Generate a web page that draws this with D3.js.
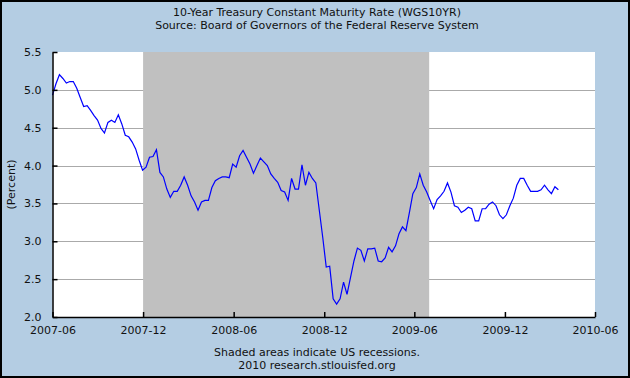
<!DOCTYPE html>
<html><head><meta charset="utf-8">
<script src="https://cdn.jsdelivr.net/npm/d3@7"></script>
<style>
html,body{margin:0;padding:0;background:#b4cde3;}
svg{display:block;}
text{font-family:"DejaVu Sans",Verdana,sans-serif;font-size:11px;fill:#111;}
</style></head><body>
<script>
const titleLines = ["10-Year Treasury Constant Maturity Rate (WGS10YR)", "Source: Board of Governors of the Federal Reserve System"];
const footerLines = ["Shaded areas indicate US recessions.", "2010 research.stlouisfed.org"];
const yLabel = "(Percent)";
const yTicks = [2.0, 2.5, 3.0, 3.5, 4.0, 4.5, 5.0, 5.5];
const xTickLabels = ["2007-06", "2007-12", "2008-06", "2008-12", "2009-06", "2009-12", "2010-06"];
const recession = ["2007-12-01", "2009-07-01"];
const firstWeek = "2007-06-01";
// weekly observations, one per week starting at firstWeek
const values = [
 4.93,5.08,5.20,5.15,5.09,5.11,5.11,5.02,4.90,4.78,4.79,4.73,4.66,4.60,4.49,4.43,4.57,4.60,4.57,4.67,
 4.55,4.40,4.38,4.31,4.22,4.07,3.94,3.98,4.11,4.12,4.21,
 3.91,3.85,3.69,3.58,3.66,3.66,3.74,3.85,3.74,3.60,3.52,3.41,3.52,3.54,3.54,3.71,3.80,3.83,3.85,3.85,
 3.84,4.02,3.98,4.13,4.20,4.11,4.02,3.90,4.00,4.10,4.05,4.00,3.89,3.83,3.78,3.67,3.65,3.54,3.83,3.69,
 3.69,4.01,3.74,3.91,3.83,3.77,3.41,3.05,2.66,2.67,2.24,2.17,
 2.24,2.46,2.30,2.52,2.74,2.91,2.88,2.74,2.90,2.90,2.91,2.74,2.73,2.78,2.92,2.86,2.94,3.10,3.19,3.14,
 3.38,3.63,3.71,3.89,3.74,3.65,3.54,3.43,3.55,3.60,3.66,3.77,3.65,3.47,3.45,3.38,3.41,3.45,3.43,3.27,
 3.27,3.43,3.43,3.49,3.52,3.47,3.35,3.30,3.35,3.47,3.57,3.74,
 3.83,3.83,3.74,3.66,3.66,3.66,3.68,3.74,3.68,3.63,3.72,3.68
];

const W = 630, H = 378;
const parse = d3.utcParse("%Y-%m-%d");
const parseM = d3.utcParse("%Y-%m");
const start = parse(firstWeek);
const data = values.map((v, i) => ({date: d3.utcDay.offset(start, i * 7), value: v}));

const L = 52.5, R = 595, T = 52, B = 317;
const x = d3.scaleUtc().domain([parseM("2007-06"), parseM("2010-06")]).range([L, R]);
const y = d3.scaleLinear().domain([2.0, 5.5]).range([B, T]);

const svg = d3.select("body").append("svg").attr("width", W).attr("height", H);
svg.append("rect").attr("x", 0).attr("y", 0).attr("width", W).attr("height", H).attr("fill", "#b4cde3");
svg.append("rect").attr("x", 1).attr("y", 1).attr("width", W - 2).attr("height", H - 2)
  .attr("fill", "none").attr("stroke", "#000").attr("stroke-width", 2);

// plot background
svg.append("rect").attr("x", L).attr("y", T).attr("width", R - L).attr("height", B - T).attr("fill", "#fff");

// gridlines
svg.append("g").selectAll("line").data(yTicks.filter(t => t > 2.0 && t < 5.5)).join("line")
  .attr("x1", L).attr("x2", R).attr("y1", d => Math.round(y(d)) + 0.5).attr("y2", d => Math.round(y(d)) + 0.5)
  .attr("stroke", "#aaaaaa").attr("stroke-width", 1);

// recession shading
svg.append("rect").attr("x", x(parse(recession[0]))).attr("y", T)
  .attr("width", x(parse(recession[1])) - x(parse(recession[0]))).attr("height", B - T)
  .attr("fill", "#c0c0c0");

// line
svg.append("path").datum(data)
  .attr("d", d3.line().x(d => x(d.date)).y(d => y(d.value)))
  .attr("fill", "none").attr("stroke", "#0000ff").attr("stroke-width", 1.2);

// axes
const yAxis = d3.axisLeft(y).tickValues(yTicks).tickFormat(d3.format(".1f")).tickSizeInner(-5).tickSizeOuter(0).tickPadding(11);
const gy = svg.append("g").attr("transform", `translate(${L},0)`).call(yAxis);
const xAxis = d3.axisBottom(x).tickValues(xTickLabels.map(s => parseM(s))).tickFormat(d3.utcFormat("%Y-%m")).tickSizeInner(-5).tickSizeOuter(0).tickPadding(9);
const gx = svg.append("g").attr("transform", `translate(0,${B})`).call(xAxis);
[gx, gy].forEach(g => {
  g.select(".domain").attr("stroke", "#000").attr("stroke-width", 1.5);
  g.selectAll(".tick line").attr("stroke", "#000").attr("stroke-width", 1.5);
  g.selectAll("text").attr("font-family", "DejaVu Sans, Verdana, sans-serif").attr("font-size", 11).attr("fill", "#111");
});

// titles
const cx = 317;
svg.append("text").attr("x", cx).attr("y", 16).attr("text-anchor", "middle").text(titleLines[0]);
svg.append("text").attr("x", cx).attr("y", 29).attr("text-anchor", "middle").text(titleLines[1]);
svg.append("text").attr("x", cx).attr("y", 356).attr("text-anchor", "middle").text(footerLines[0]);
svg.append("text").attr("x", cx).attr("y", 369).attr("text-anchor", "middle").text(footerLines[1]);
svg.append("text").attr("transform", `translate(15,${(T + B) / 2}) rotate(-90)`).attr("text-anchor", "middle").text(yLabel);
</script>
</body></html>
